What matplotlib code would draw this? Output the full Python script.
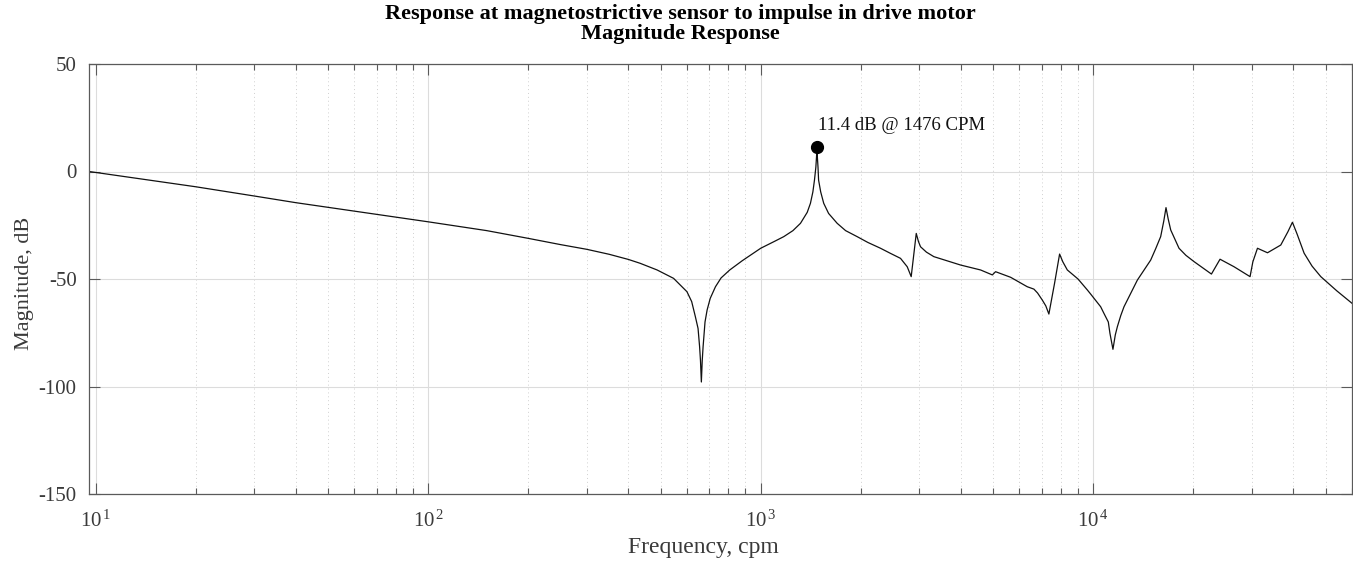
import numpy as np
import matplotlib.pyplot as plt

plt.rcParams['font.family'] = ['Liberation Serif', 'DejaVu Serif']
plt.rcParams['mathtext.fontset'] = 'custom'
plt.rcParams['mathtext.rm'] = 'Liberation Serif'
plt.rcParams['mathtext.it'] = 'Liberation Serif:italic'
plt.rcParams['axes.unicode_minus'] = False

# magnitude response, frequency in cpm
freq_cpm = [9.55, 20, 30, 40, 100, 150, 200, 250, 300, 350, 400, 434, 488, 547,
            600, 620, 636, 648, 655, 659, 663, 667, 671, 680, 690, 705, 731, 760,
            807, 880, 1000, 1100, 1173, 1250, 1317, 1380, 1411, 1435, 1451, 1465,
            1472, 1476, 1480, 1487, 1493, 1515, 1547, 1600, 1698, 1800, 1950,
            2100, 2292, 2450, 2633, 2758, 2835, 2936, 2980, 3024, 3150, 3316,
            3990, 4584, 4972, 5085, 5643, 6333, 6630, 6800, 7028, 7200, 7355,
            7650, 7922, 8100, 8357, 9000, 9600, 9822, 10527, 10770, 11100, 11227,
            11462, 11650, 11817, 12100, 12374, 13574, 14885, 15400, 15950, 16300,
            16550, 16800, 17100, 18110, 19000, 20090, 22670, 24060, 26510, 29620,
            30200, 31180, 33420, 36640, 38500, 39720, 41000, 43070, 45500, 48340,
            54000, 60000]
mag_db = [0.0, -7.1, -11.4, -14.5, -23.4, -27.5, -31.1, -34.0, -36.2, -38.5,
          -40.9, -42.7, -45.8, -49.7, -55.9, -60.5, -67.5, -73.0, -81.5, -88.0,
          -97.9, -88.0, -81.5, -70.0, -64.4, -59.0, -53.6, -49.5, -45.8, -41.5,
          -35.7, -32.5, -30.3, -27.5, -24.1, -19.0, -14.8, -9.5, -4.0, 2.0,
          7.0, 11.4, 7.0, 2.0, -4.0, -9.5, -14.8, -19.5, -24.1, -27.5, -30.3,
          -33.0, -35.7, -38.0, -40.4, -44.3, -48.9, -28.8, -32.5, -35.0, -37.5,
          -39.6, -43.5, -45.8, -48.1, -46.6, -49.2, -53.6, -54.7, -56.5, -59.8,
          -62.5, -66.3, -52.0, -38.4, -42.0, -45.8, -50.0, -55.1, -57.0, -62.9,
          -66.0, -70.0, -75.3, -82.7, -76.0, -72.2, -67.0, -62.9, -50.5, -41.2,
          -36.0, -30.3, -23.0, -16.8, -22.0, -27.2, -35.7, -39.0, -41.9, -47.7,
          -40.8, -44.3, -48.9, -42.0, -35.7, -37.8, -34.2, -28.0, -23.6, -29.0,
          -38.0, -44.0, -48.9, -55.5, -61.3]

peak_f = 1476
peak_db = 11.4

fig = plt.figure(figsize=(13.53, 5.65), dpi=100)
ax = fig.add_axes([89 / 1353, 71 / 565, 1263 / 1353, 430 / 565])

ax.semilogx(freq_cpm, mag_db, color='#111111', lw=0.9)
ax.plot(peak_f, peak_db, 'o', color='black', ms=8.5)
ax.annotate(f'{peak_db} dB @ {peak_f} CPM', (peak_f, peak_db),
            xytext=(1, 9), textcoords='offset points',
            fontsize=13.5, color='#111111', va='bottom', ha='left')

ax.set_xlim(9.55, 60000)
ax.set_ylim(-150, 50)
ax.set_yticks([-150, -100, -50, 0, 50])
ax.set_xticks([10, 100, 1000, 10000])
ax.set_xticklabels([r'10$^{\,1}$', r'10$^{\,2}$', r'10$^{\,3}$', r'10$^{\,4}$'])

ax.grid(True, which='major', color='#dcdcdc', lw=0.8, ls='-')
ax.grid(True, which='minor', axis='x', color='#d0d0d0', lw=0.7, ls=(0, (1, 3)))
ax.set_axisbelow(True)

for s in ax.spines.values():
    s.set_color('#5a5a5a')
    s.set_linewidth(0.9)

ax.tick_params(which='both', direction='in', top=True, right=True,
               colors='#5a5a5a', labelcolor='#3a3a3a', labelsize=15)
ax.tick_params(which='major', length=8, width=0.8)
ax.tick_params(which='minor', length=4.5, width=0.8)
ax.tick_params(axis='x', pad=12)
ax.tick_params(axis='y', pad=9)

ax.set_xlabel('Frequency, cpm', fontsize=17, color='#3a3a3a')
ax.set_ylabel('Magnitude, dB', fontsize=16, color='#3a3a3a')
ax.xaxis.set_label_coords((703 - 89) / 1263, -(537 - 494) / 430)
ax.yaxis.set_label_coords(-(89 - 34) / 1263, 0.49)

fig.text(0.503, 1 - 14 / 565, 'Response at magnetostrictive sensor to impulse in drive motor',
         ha='center', va='center', fontsize=16, fontweight='bold', color='black')
fig.text(0.503, 1 - 34 / 565, 'Magnitude Response',
         ha='center', va='center', fontsize=16, fontweight='bold', color='black')

fig.savefig('out.png', dpi=100)
